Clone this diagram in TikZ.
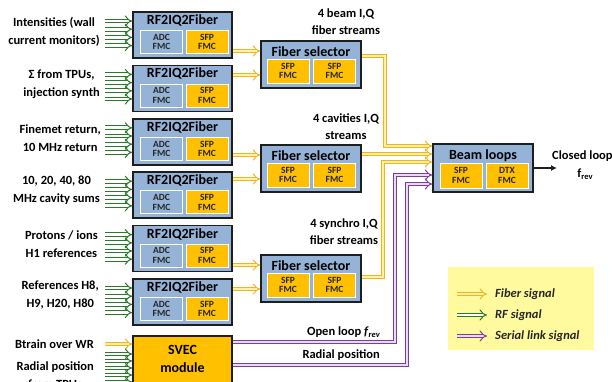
\documentclass[tikz,border=0pt]{standalone}
\usepackage{fontspec}
\setmainfont{Carlito}
\usetikzlibrary{arrows.meta,calc}
\definecolor{boxblue}{HTML}{95B3D7}
\definecolor{fmcorange}{HTML}{FFC000}
\definecolor{edge}{HTML}{1E1E1E}
\definecolor{fibre}{HTML}{F0B41E}
\definecolor{fibrein}{HTML}{FFF2A8}
\definecolor{rfgreen}{HTML}{2A7A2A}
\definecolor{serial}{HTML}{7A3E9E}
\definecolor{serialin}{HTML}{E8DAF4}
\definecolor{legendbg}{HTML}{FFFA9E}
\newcommand{\frevit}{\textit{f}\raisebox{-0.35ex}{\fontsize{8.5}{9}\selectfont\itshape rev}}
\newcommand{\frevup}{f\raisebox{-0.35ex}{\fontsize{8.5}{9}\selectfont rev}}
\begin{document}
\begin{tikzpicture}[x=1pt,y=-1pt,
  card/.style={draw=edge, line width=1.5pt, fill=boxblue, minimum width=99pt, minimum height=46pt, inner sep=0pt},
  fmc/.style={draw=white, line width=0.8pt, fill=#1, minimum width=42pt, minimum height=23pt, inner sep=0pt,
    align=center, font=\bfseries\fontsize{9.5}{9.5}\selectfont, text=black!85},
  title/.style={font=\bfseries\fontsize{14}{14}\selectfont, inner sep=0pt},
  lbl/.style={font=\bfseries\fontsize{12.5}{18}\selectfont, anchor=east, align=center, inner sep=0pt},
  note/.style={font=\bfseries\fontsize{12.5}{17}\selectfont, align=center, inner sep=0pt},
  sig/.style={line width=1pt, double distance=2.8pt, -{Implies[scale=1.25]}},
  fiber/.style={sig, draw=fibre, double=fibrein},
  rf/.style={sig, draw=rfgreen, double=white},
  ser/.style={sig, draw=serial, double=serialin},
]
\useasboundingbox (0,0) rectangle (612,381);
\fill[white] (0,0) rectangle (612,381);

% RF2IQ2Fiber cards with their RF inputs
\foreach \i/\t in {1/12,2/65.4,3/118.8,4/172.2,5/225.6,6/279} {
  \node[card] (rf\i) at (182.5,\t+23) {};
  \node[title] (rf\i-t) at (182.5,\t+8.5) {RF2IQ2Fiber};
  \node[fmc=boxblue] (rf\i-adc) at (161.5,\t+30) {ADC\\FMC};
  \node[fmc=fmcorange] (rf\i-sfp) at (207,\t+30) {SFP\\FMC};
  \foreach \j in {0,...,3} {
    \coordinate (rf\i-in\j) at (105,\t+9+8.2*\j);
    \draw[rf] (rf\i-in\j) -- (rf\i-in\j -| rf\i.west);
  }
}

% input descriptions
\node[lbl] (l1) at (100,31.5) {Intensities (wall\\current monitors)};
\node[lbl] (l2) at (100,84) {Σ from TPUs,\\injection synth};
\node[lbl] (l3) at (101,138) {Finemet return,\\10 MHz return};
\node[lbl] (l4) at (100,190.5) {10, 20, 40, 80\\MHz cavity sums};
\node[lbl] (l5) at (98,244) {Protons / ions\\H1 references};
\node[lbl] (l6) at (99,295) {References H8,\\H9, H20, H80};

% fiber selectors
\foreach \k/\t in {1/41,2/145,3/255} {
  \node[card, minimum width=100pt, minimum height=47pt] (fs\k) at (311,\t+23.5) {};
  \node[title] (fs\k-t) at (311,\t+11) {Fiber selector};
  \node[fmc=fmcorange, minimum height=24pt] (fs\k-a) at (288,\t+30) {SFP\\FMC};
  \node[fmc=fmcorange, minimum height=24pt] (fs\k-b) at (334.5,\t+30) {SFP\\FMC};
}
\draw[fiber] (rf1.east |- 0,51) -- (fs1.west |- 0,51);
\draw[fiber] (rf2.east |- 0,75) -- (fs1.west |- 0,75);
\draw[fiber] (rf3.east |- 0,155) -- (fs2.west |- 0,155);
\draw[fiber] (rf4.east |- 0,179) -- (fs2.west |- 0,179);
\draw[fiber] (rf5.east |- 0,265) -- (fs3.west |- 0,265);
\draw[fiber] (rf6.east |- 0,289) -- (fs3.west |- 0,289);

\node[note] (n1) at (346,21.5) {4 beam I,Q\\fiber streams};
\node[note] (n2) at (346,126.5) {4 cavities I,Q\\streams};
\node[note] (n3) at (344,231.5) {4 synchro I,Q\\fiber streams};

% SVEC module
\node[draw=edge, line width=1.5pt, fill=fmcorange, minimum width=99pt, minimum height=60pt, inner sep=0pt] (svec) at (182.5,366) {};
\node[font=\bfseries\fontsize{14}{18}\selectfont, align=center, inner sep=0pt] (svec-t) at (182.5,359) {SVEC\\module};
\coordinate (bt-in) at (105,344);
\draw[fiber] (bt-in) -- (bt-in -| svec.west);
\foreach \j in {0,...,4} {
  \coordinate (sv-in\j) at (105,354+7*\j);
  \draw[rf] (sv-in\j) -- (sv-in\j -| svec.west);
}
\node[lbl, font=\bfseries\fontsize{12.5}{13}\selectfont] (l7) at (94,344) {Btrain over WR};
\node[lbl] (l8) at (94,375) {Radial position\\from TPUs};

% beam loops
\node[card, minimum width=100pt, minimum height=48pt] (bl) at (483,168) {};
\node[title] (bl-t) at (483,156) {Beam loops};
\node[fmc=fmcorange, minimum height=25pt] (bl-a) at (461,175.5) {SFP\\FMC};
\node[fmc=fmcorange, minimum height=25pt] (bl-b) at (507,175.5) {DTX\\FMC};

\draw[fiber] (fs1.east |- 0,56) -| (385,146) -- (bl.west |- 0,146);
\draw[fiber] (fs2.east |- 0,154) -- (bl.west |- 0,154);
\draw[fiber] (fs3.east |- 0,277) -| (383,162) -- (bl.west |- 0,162);
\draw[ser] (svec.east |- 0,342) -| (395,175) -- (bl.west |- 0,175);
\draw[ser] (svec.east |- 0,365) -| (407,184) -- (bl.west |- 0,184);

\node[font=\bfseries\fontsize{12.5}{13}\selectfont, anchor=east, inner sep=0pt] (ol) at (380,332) {Open loop \frevit};
\node[font=\bfseries\fontsize{12.5}{13}\selectfont, anchor=east, inner sep=0pt] (rp) at (380,355) {Radial position};

\coordinate (out) at (557,168);
\draw[edge, line width=1.3pt, -{Latex[length=6pt,width=6pt]}] (bl.east) -- (out);
\node[font=\bfseries\fontsize{12.5}{13}\selectfont, anchor=west, inner sep=0pt] (cl) at (552,156) {Closed loop};
\node[font=\bfseries\fontsize{12.5}{13}\selectfont, inner sep=0pt] (fr) at (585,174) {\frevup};

% legend
\node[fill=legendbg, minimum width=146pt, minimum height=83pt, inner sep=0pt] (leg) at (521,308.5) {};
\foreach \k/\y/\s/\txt in {1/294/fiber/Fiber signal,2/315/rf/RF signal,3/336/ser/Serial link signal} {
  \coordinate (lg\k) at (457,\y);
  \draw[\s] (lg\k) -- (487,\y);
  \node[font=\bfseries\itshape\fontsize{12.5}{13}\selectfont, anchor=west, inner sep=0pt, text=black!85] (lt\k) at (495,\y) {\txt};
}
\end{tikzpicture}
\end{document}
